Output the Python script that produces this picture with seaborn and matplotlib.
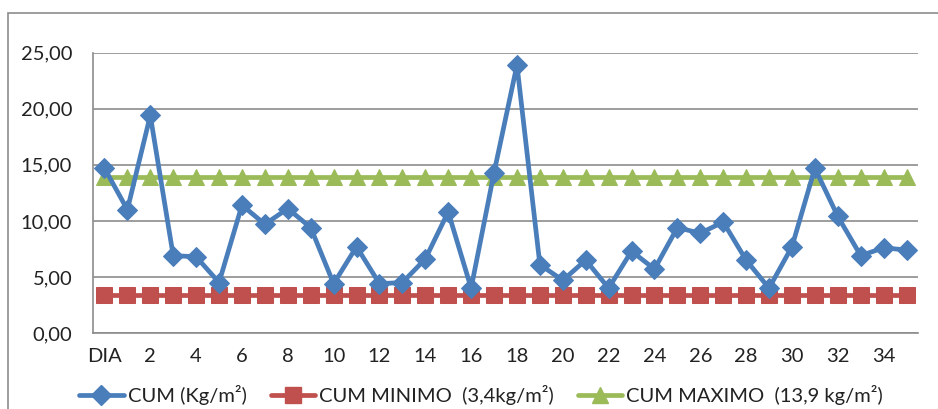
import matplotlib
matplotlib.use("Agg")
import matplotlib.pyplot as plt
from matplotlib.patches import Rectangle
from matplotlib.ticker import FixedLocator, FuncFormatter
import numpy as np
import pandas as pd
import seaborn as sns

# Daily categories: "DIA" followed by days 1..35
days = ["DIA"] + [str(d) for d in range(1, 36)]

cum_values = [14.7, 11.0, 19.4, 6.9, 6.8, 4.5, 11.4, 9.7, 11.1, 9.4,
              4.4, 7.7, 4.4, 4.5, 6.6, 10.8, 4.0, 14.3, 23.9, 6.1,
              4.7, 6.5, 4.0, 7.3, 5.7, 9.4, 8.9, 9.9, 6.5, 4.0,
              7.7, 14.7, 10.4, 6.9, 7.6, 7.4]
cum_min = 3.4
cum_max = 13.9

series_labels = ["CUM (Kg/m²)", "CUM MINIMO  (3,4kg/m²)", "CUM MAXIMO  (13,9 kg/m²)"]
series_colors = ["#4A7EBB", "#C0504D", "#9BBB59"]
series_markers = ["D", "s", "^"]
series_msize = [10, 11, 11]

y_ticks = [0, 5, 10, 15, 20, 25]

pos = np.arange(len(days))
df = pd.DataFrame({
    "pos": np.tile(pos, 3),
    "value": cum_values + [cum_min] * len(days) + [cum_max] * len(days),
    "series": np.repeat(series_labels, len(days)),
})

sns.set_style("white")
plt.rcParams["font.family"] = ["Lato", "DejaVu Sans"]

fig = plt.figure(figsize=(9.38, 4.09), dpi=100)
ax = fig.add_axes([93 / 938, 76 / 409, (918 - 93) / 938, (333 - 52.7) / 409])

# outer chart frame
fig.patches.append(Rectangle((8 / 938, -0.1), 1.2, (409 - 13) / 409 + 0.1,
                             transform=fig.transFigure, fill=False,
                             edgecolor="#8C8C8C", linewidth=1.2, zorder=0))

# draw order: min, max, then the measured series on top
for idx in [1, 2, 0]:
    sub = df[df["series"] == series_labels[idx]]
    sns.lineplot(data=sub, x="pos", y="value", ax=ax, color=series_colors[idx],
                 marker=series_markers[idx], markersize=series_msize[idx],
                 markeredgecolor=series_colors[idx], linewidth=3.4,
                 label=series_labels[idx], legend=False, zorder=3 + (idx == 0))

ax.set_xlim(-0.5, len(days) - 0.5)
ax.set_ylim(0, 25)
ax.set_xlabel("")
ax.set_ylabel("")

# y axis
ax.set_yticks(y_ticks)
ax.yaxis.set_major_formatter(FuncFormatter(lambda v, p: f"{v:.2f}".replace(".", ",")))
ax.grid(axis="y", color="#8C8C8C", linewidth=1.2)
ax.set_axisbelow(True)

# x axis: labels at every other category, tick marks on category boundaries
ax.set_xticks(pos[::2])
ax.set_xticklabels(days[::2])
ax.xaxis.set_minor_locator(FixedLocator(np.arange(-0.5, len(days), 1.0)))
ax.tick_params(axis="x", which="major", length=0, pad=11, labelsize=14.5, labelcolor="#222222")
ax.tick_params(axis="x", which="minor", length=6, width=1.2, color="#8C8C8C", direction="out")
ax.tick_params(axis="y", which="major", length=6, width=1.2, color="#8C8C8C",
               direction="out", pad=9, labelsize=14.5, labelcolor="#222222")

for side in ["top", "right"]:
    ax.spines[side].set_visible(False)
for side in ["left", "bottom"]:
    ax.spines[side].set_color("#8C8C8C")
    ax.spines[side].set_linewidth(1.2)

handles = [plt.Line2D([], [], color=c, marker=m, markersize=s, linewidth=3.4)
           for c, m, s in zip(series_colors, series_markers, series_msize)]
fig.legend(handles, series_labels, loc="center", bbox_to_anchor=(0.513, 14 / 409),
           ncol=3, frameon=False, fontsize=14.5, handlelength=2.2,
           handletextpad=0.2, columnspacing=1.2, labelcolor="#222222")

fig.savefig("out.png", dpi=100)
